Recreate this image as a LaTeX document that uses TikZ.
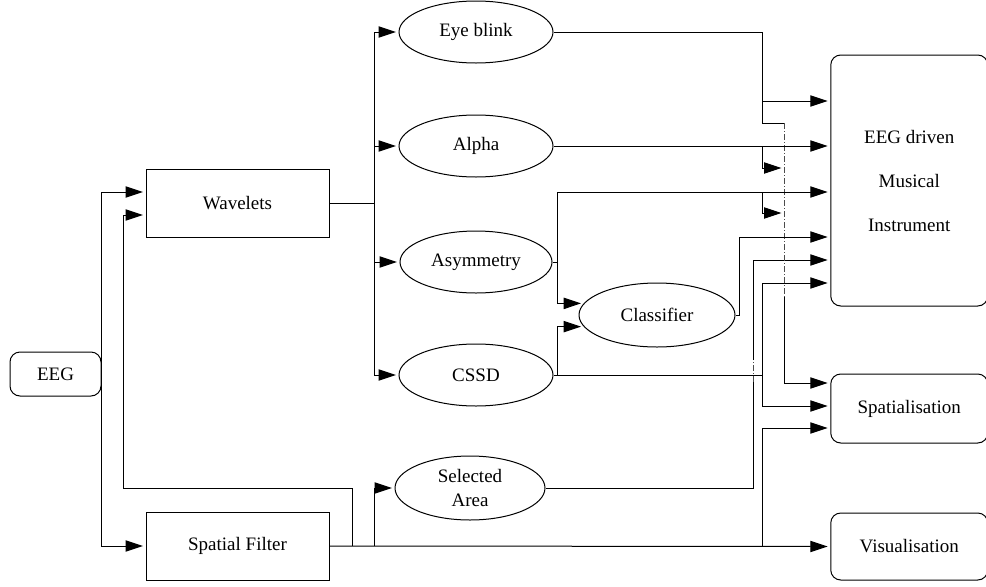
\documentclass[tikz,border=0pt]{standalone}
\usepackage{fontspec}
\setmainfont{Liberation Serif}
\usetikzlibrary{arrows.meta,shapes.geometric,calc}
\begin{document}
\begin{tikzpicture}[x=0.75pt,y=-0.75pt,
  every node/.style={font=\rmfamily\fontsize{14.25pt}{17pt}\selectfont},
  line/.style={draw=black, line width=0.75pt},
  arr/.style={line, -{Triangle[length=13pt,width=8.5pt]}, shorten >=2pt},
  blk/.style={draw, line width=0.75pt, inner sep=0pt},
  rbox/.style={blk, rounded corners=7.5pt},
  ell/.style={draw, ellipse, line width=0.75pt, inner sep=0pt, minimum width=115.5pt, minimum height=46.5pt},
  dd/.style={draw=black!70, line width=0.75pt, dash pattern=on 4.5pt off 1.5pt on 0.75pt off 1.5pt}
]
\useasboundingbox (0,0) rectangle (986,586);

% nodes
\node[rbox, minimum width=68.25pt, minimum height=33pt] (eeg) at (55.5,374) {EEG};
\node[blk, minimum width=137.25pt, minimum height=51pt] (wav) at (237.5,203) {Wavelets};
\node[blk, minimum width=137.25pt, minimum height=51pt] (sf) at (237.5,546) {Spatial Filter};
\node[ell] (eye) at (476,32) {Eye blink};
\node[ell] (alpha) at (476,146) {Alpha};
\node[ell, minimum width=114pt] (asym) at (476,262) {Asymmetry};
\node[ell] (cssd) at (476,375) {CSSD};
\node[ell, minimum width=112.5pt, minimum height=48pt, align=center] (sel) at (470,488) {Selected\\[1pt]Area};
\node[ell, minimum width=117pt, minimum height=48pt] (cls) at (657,315) {Classifier};
\node[rbox, minimum width=117.75pt, minimum height=188.25pt, align=center,
      font=\rmfamily\fontsize{14.25pt}{33pt}\selectfont] (mi) at (909.25,180.5) {EEG driven\\Musical\\Instrument};
\node[rbox, minimum width=117.75pt, minimum height=51.75pt] (spat) at (909.25,408.5) {Spatialisation};
\node[rbox, minimum width=117.75pt, minimum height=50.25pt] (vis) at (909.25,546.5) {Visualisation};

% row coordinates
\coordinate (r101) at (0,101);
\coordinate (r192) at (0,192);
\coordinate (r237) at (0,237);
\coordinate (r260) at (0,260);
\coordinate (r283) at (0,283);
\coordinate (s383) at (0,383);
\coordinate (s406) at (0,406);
\coordinate (s428) at (0,428);

% junctions
\coordinate (bt) at (374,32);
\coordinate (bb) at (374,375);
\coordinate (fb) at (352,546);
\coordinate (sb) at (374,546);
\coordinate (aj) at (557,262);
\coordinate (cj) at (557,375);
\coordinate (k1) at (762,101);
\coordinate (k2) at (762,123);
\coordinate (k3) at (784,123);
\coordinate (k4) at (784,297);
\coordinate (a1) at (762,146);
\coordinate (a2) at (784,168);
\coordinate (b1) at (762,192);
\coordinate (b2) at (784,213);
\coordinate (c1) at (762,375);
\coordinate (v1) at (762,546);
\coordinate (s1) at (753,382);
\coordinate (s2) at (753,360);

% wavelets to bus
\draw[line] (wav.east) -- (wav.east -| bt);
\draw[line] (bt) -- (bb);
\draw[arr] (bt) -- (eye.west);
\draw[arr] (bt |- alpha.west) -- (alpha.west);
\draw[arr] (bt |- asym.west) -- (asym.west);
\draw[arr] (bb) -- (cssd.west);

% EEG
\draw[arr] (eeg.east) |- ($(wav.west)+(0,-11)$);
\draw[arr] (eeg.east) |- (sf.west);

% feedback
\draw[arr] (fb) -- (352,488) -- (123,488) -- (123,215) -- ($(wav.west)+(0,12)$);

% spatial filter output
\draw[arr] (sf.east) -- (vis.west);
\draw[arr] (sb) |- (sel.west);
\draw[arr] (v1) |- (spat.west |- s428);

% selected area
\draw[line] (sel.east) -| (s1);
\draw[dd] (s1) -- (s2);
\draw[arr] (s2) |- (mi.west |- r260);

% eye blink
\draw[line] (eye.east) -| (k2) -- (k3);
\draw[arr] (k1) -- (mi.west |- r101);
\draw[dd] (k3) -- (k4);
\draw[arr] (k4) |- (spat.west |- s383);

% alpha
\draw[arr] (alpha.east) -- (mi.west |- alpha.east);
\draw[arr] (a1) |- (a2);

% asymmetry
\draw[line] (asym.east) -- (aj);
\draw[arr] (aj) |- (mi.west |- r192);
\draw[arr] (aj) |- (cls.171);
\draw[arr] (b1) |- (b2);

% classifier
\draw[arr] (cls.east) -- ++(4,0) |- (mi.west |- r237);

% CSSD
\draw[line] (cssd.east) -- (cj);
\draw[arr] (cj) |- (cls.189);
\draw[line] (cj) -- (c1);
\draw[arr] (c1) |- (mi.west |- r283);
\draw[arr] (c1) |- (spat.west |- s406);
\end{tikzpicture}
\end{document}
